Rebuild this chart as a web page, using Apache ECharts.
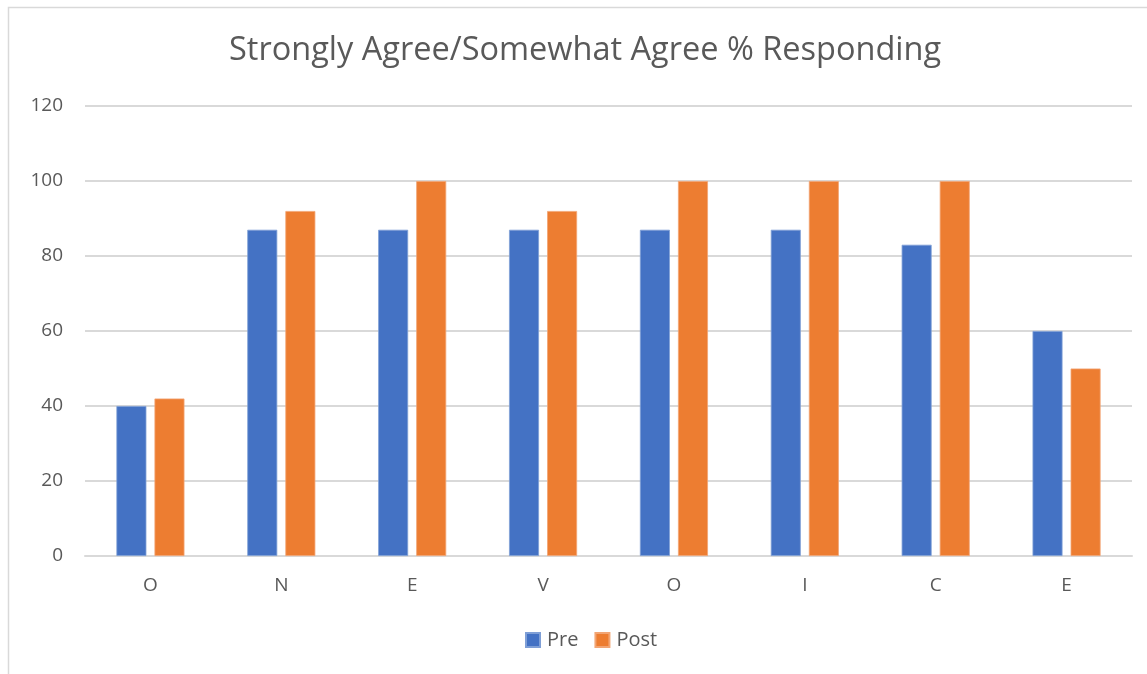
<!DOCTYPE html>
<html>
<head>
<meta charset="utf-8">
<title>Strongly Agree/Somewhat Agree % Responding</title>
<script src="https://cdn.jsdelivr.net/npm/echarts@6/dist/echarts.min.js"></script>
<style>
  html, body { margin: 0; padding: 0; background: #fff; }
  #container { width: 1147px; height: 674px; }
</style>
</head>
<body>
<div id="container"></div>
<script>
var categories = ['O', 'N', 'E', 'V', 'O', 'I', 'C', 'E'];
var preValues = [40, 87, 87, 87, 87, 87, 83, 60];
var postValues = [42, 92, 100, 92, 100, 100, 100, 50];
var seriesNames = ['Pre', 'Post'];

var textColor = '#595959';
var fontFam = '"Open Sans", "Noto Sans", sans-serif';

var dom = document.getElementById('container');
var myChart = echarts.init(dom);
var option = {
  animation: false,
  color: ['#4472C4', '#ED7D31'],
  title: {
    text: 'Strongly Agree/Somewhat Agree % Responding',
    left: 224,
    top: 29,
    textStyle: { color: textColor, fontSize: 32.5, fontWeight: 'normal', fontFamily: fontFam }
  },
  legend: {
    data: seriesNames,
    bottom: 19,
    left: 520,
    itemWidth: 14,
    itemHeight: 14,
    itemGap: 16,
    icon: 'rect',
    textStyle: { color: textColor, fontSize: 20, fontFamily: fontFam, padding: [0, 0, 0, 2] }
  },
  // chart frame, like the original's border
  graphic: [{
    type: 'rect',
    shape: { x: 8.5, y: 7.5, width: 1300, height: 800 },
    style: { fill: 'none', stroke: '#d9d9d9', lineWidth: 1.5 },
    silent: true
  }],
  grid: { left: 85, right: 15, top: 106, bottom: 118 },
  xAxis: {
    type: 'category',
    data: categories,
    axisLine: { show: true, lineStyle: { color: '#d9d9d9', width: 2 } },
    axisTick: { show: false },
    axisLabel: { color: textColor, fontSize: 19, margin: 20, fontFamily: fontFam }
  },
  yAxis: {
    type: 'value',
    min: 0,
    max: 120,
    interval: 20,
    axisLine: { show: false },
    axisTick: { show: false },
    axisLabel: { color: textColor, fontSize: 19, margin: 22, fontFamily: fontFam },
    splitLine: { lineStyle: { color: '#d9d9d9', width: 2 } }
  },
  series: [
    {
      name: seriesNames[0],
      type: 'bar',
      data: preValues,
      barGap: '27%',
      barCategoryGap: '48%',
      itemStyle: { borderColor: '#7F9FD6', borderWidth: 0.8 }
    },
    {
      name: seriesNames[1],
      type: 'bar',
      data: postValues,
      barGap: '27%',
      barCategoryGap: '48%',
      itemStyle: { borderColor: '#F2A574', borderWidth: 0.8 }
    }
  ]
};
myChart.setOption(option, true);
</script>
</body>
</html>
